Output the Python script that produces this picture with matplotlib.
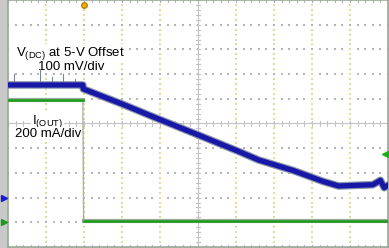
import numpy as np
import matplotlib.pyplot as plt

# scope settings
v_offset = 5.0        # V, channel 1 offset
v_per_div = 0.1       # V/div
i_per_div = 0.2       # A/div
ch1_ref_div = 2.0     # screen position of ch1 reference marker
ch2_ref_div = 1.0     # screen position of ch2 ground marker
trig_div = 2.0

# channel 1: output voltage (time in divisions, value in volts)
v_time = [0.0, 1.97, 1.98, 3.0, 3.9, 5.0, 6.1, 6.6, 7.5, 8.3, 8.7, 9.2, 9.6, 9.8, 9.9, 10.0]
v_vals = [5.456, 5.456, 5.44, 5.379, 5.322, 5.254, 5.185, 5.152, 5.11, 5.065, 5.047, 5.05, 5.052, 5.07, 5.04, 5.05]

# a few noise spikes on the flat part of ch1 (time, top value)
spike_t = [0.15, 0.85, 1.15, 1.45, 1.75]
spike_v = [5.50, 5.52, 5.49, 5.50, 5.48]

# channel 2: output current
i_time = [0.0, 1.97, 1.99, 10.0]
i_vals = [0.99, 0.99, 0.01, 0.01]


def v_to_div(v):
    return ch1_ref_div + (np.asarray(v) - v_offset) / v_per_div


def i_to_div(i):
    return ch2_ref_div + np.asarray(i) / i_per_div


fig = plt.figure(figsize=(3.89, 2.48), dpi=100)
fig.patch.set_facecolor('#c9c9c9')
ax = fig.add_axes([8 / 389, 1 / 248, 380 / 389, 247 / 248])
ax.set_xlim(0, 10)
ax.set_ylim(0, 10)
ax.set_facecolor('white')
for s in ax.spines.values():
    s.set_color('#9aa89a')
    s.set_linewidth(1.2)
ax.set_xticks([])
ax.set_yticks([])

# dotted graticule
minor = np.arange(0, 10.01, 0.2)
for k in range(1, 10):
    if k == 5:
        continue
    ax.scatter(np.full(minor.size, k), minor, s=0.8, color='#e0dc9c', marker='s', lw=0, zorder=1)
    ax.scatter(minor, np.full(minor.size, k), s=0.8, color='#b4b4b4', marker='s', lw=0, zorder=1)
# center cross with ticks
ax.axvline(5, color='#c4c4c4', lw=0.8, zorder=1)
ax.axhline(5, color='#c4c4c4', lw=0.8, zorder=1)
for m in minor:
    ax.plot([5 - 0.06, 5 + 0.06], [m, m], color='#c4c4c4', lw=0.8, zorder=1)
    ax.plot([m, m], [5 - 0.1, 5 + 0.1], color='#c4c4c4', lw=0.8, zorder=1)
    ax.plot([m, m], [0, 0.1], color='#b4b4b4', lw=0.8, zorder=1)
    ax.plot([m, m], [10, 9.9], color='#b4b4b4', lw=0.8, zorder=1)

# traces
vy = v_to_div(v_vals)
iy = i_to_div(i_vals)
ax.plot(i_time[1:3], iy[1:3], color='#a8b0a8', lw=1.0, zorder=2)
ax.plot(i_time[:2], iy[:2], color='#9aaa9a', lw=3.0, zorder=2)
ax.plot(i_time[:2], iy[:2], color='#1a9e1a', lw=1.8, zorder=3)
ax.plot(i_time[2:], iy[2:], color='#9aaa9a', lw=3.0, zorder=2)
ax.plot(i_time[2:], iy[2:], color='#1a9e1a', lw=1.8, zorder=3)
ax.plot(v_time, vy, color='#8d97aa', lw=5.5, zorder=4)
ax.plot(v_time, vy, color='#1818a8', lw=3.8, zorder=5)
for t, v in zip(spike_t, spike_v):
    ax.plot([t, t], [v_to_div(v_vals[0]), v_to_div(v)], color='#7a86a0', lw=0.8, zorder=4)

# markers
ax.plot(trig_div, 9.8, marker='o', ms=4, color='#f0b000', mec='#c08000', zorder=6, clip_on=False)
ax.plot(-0.1, ch1_ref_div, marker='>', ms=4, color='#1a1ad0', zorder=6, clip_on=False)
ax.plot(-0.1, ch2_ref_div, marker='>', ms=4, color='#1a9e1a', zorder=6, clip_on=False)
ax.plot(9.93, 3.75, marker='<', ms=4, color='#1ab01a', zorder=6, clip_on=False)

# labels
font = 'Liberation Sans'
fs = 9.5
box = dict(facecolor='white', edgecolor='none', pad=0.6)
ax.text(0.2, 7.75, r'V$_{\mathregular{(DC)}}$ at 5-V Offset', fontsize=fs, family=font, zorder=3, bbox=box)
ax.text(0.8, 7.18, '100 mV/div', fontsize=fs, family=font, zorder=3, bbox=box)
ax.text(0.63, 5.0, r'I$_{\mathregular{(OUT)}}$', fontsize=fs, family=font, zorder=3, bbox=box)
ax.text(0.18, 4.45, '200 mA/div', fontsize=fs, family=font, zorder=3, bbox=box)

fig.savefig('out.png', dpi=100, facecolor=fig.get_facecolor())
